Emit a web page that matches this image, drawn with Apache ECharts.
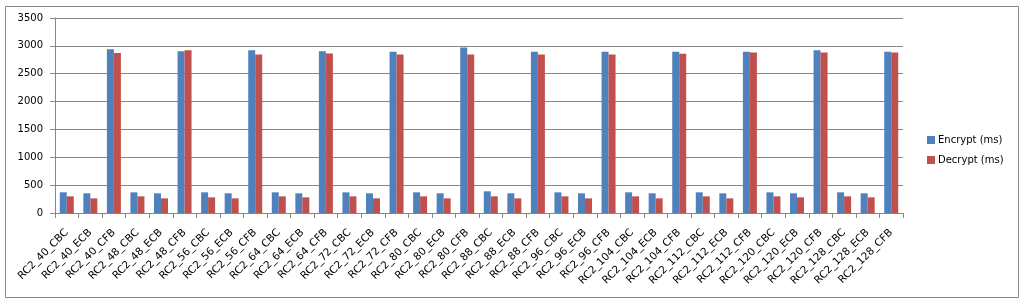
<!DOCTYPE html>
<html>
<head>
<meta charset="utf-8">
<script src="https://cdn.jsdelivr.net/npm/echarts@6/dist/echarts.min.js"></script>
<style>
html,body{margin:0;padding:0;background:#fff;}
#c{width:1023px;height:302px;}
</style>
</head>
<body>
<div id="c"></div>
<script>
const categories = [
  "RC2_40_CBC","RC2_40_ECB","RC2_40_CFB",
  "RC2_48_CBC","RC2_48_ECB","RC2_48_CFB",
  "RC2_56_CBC","RC2_56_ECB","RC2_56_CFB",
  "RC2_64_CBC","RC2_64_ECB","RC2_64_CFB",
  "RC2_72_CBC","RC2_72_ECB","RC2_72_CFB",
  "RC2_80_CBC","RC2_80_ECB","RC2_80_CFB",
  "RC2_88_CBC","RC2_88_ECB","RC2_88_CFB",
  "RC2_96_CBC","RC2_96_ECB","RC2_96_CFB",
  "RC2_104_CBC","RC2_104_ECB","RC2_104_CFB",
  "RC2_112_CBC","RC2_112_ECB","RC2_112_CFB",
  "RC2_120_CBC","RC2_120_ECB","RC2_120_CFB",
  "RC2_128_CBC","RC2_128_ECB","RC2_128_CFB"
];
const encrypt = [
  371,353,2937, 371,353,2901, 371,353,2919, 371,353,2901,
  371,353,2895, 371,353,2972, 389,353,2895, 371,353,2895,
  371,353,2895, 371,353,2895, 371,353,2919, 371,353,2895
];
const decrypt = [
  299,263,2871, 299,263,2919, 281,263,2847, 299,281,2865,
  299,263,2847, 299,263,2847, 299,263,2847, 299,263,2847,
  299,263,2859, 299,263,2883, 299,281,2883, 299,281,2883
];
const seriesNames = ["Encrypt (ms)", "Decrypt (ms)"];
const yMin = 0, yMax = 3500, yStep = 500;

const chart = echarts.init(document.getElementById('c'), null, {renderer:'canvas'});
const font = "DejaVu Sans";
const gridColor = "#868686";
chart.setOption({
  animation: false,
  backgroundColor: "#ffffff",
  textStyle: {fontFamily: font},
  graphic: [{
    type: 'rect', left: 3, top: 4, silent: true,
    shape: {x: 0, y: 0, width: 1013, height: 291},
    style: {fill: 'none', stroke: gridColor, lineWidth: 1}
  }],
  legend: {
    orient: 'vertical', left: 922, top: 130,
    itemWidth: 8, itemHeight: 8, itemGap: 10,
    icon: 'rect',
    textStyle: {fontFamily: font, fontSize: 10, color: '#000', padding: [0,0,0,-2]},
    data: seriesNames
  },
  grid: {left: 55, right: 120, top: 18, bottom: 89, containLabel: false},
  xAxis: {
    type: 'category', data: categories,
    axisLine: {lineStyle: {color: gridColor}},
    axisTick: {show: true, length: 5, lineStyle: {color: gridColor}},
    axisLabel: {interval: 0, rotate: 45, fontFamily: font, fontSize: 10.5, color: '#000', margin: 18}
  },
  yAxis: {
    type: 'value', min: yMin, max: yMax, interval: yStep,
    axisLine: {show: true, lineStyle: {color: gridColor}},
    axisTick: {show: true, length: 5, inside: false, lineStyle: {color: gridColor}},
    splitLine: {lineStyle: {color: gridColor}},
    axisLabel: {fontFamily: font, fontSize: 10, color: '#000', margin: 12, formatter: v => String(v)}
  },
  series: [
    {name: seriesNames[0], type: 'bar', data: encrypt, barWidth: 7, barGap: '0%', itemStyle: {color: '#4F81BD'}},
    {name: seriesNames[1], type: 'bar', data: decrypt, barWidth: 7, barGap: '0%', itemStyle: {color: '#C0504D'}}
  ]
});
</script>
</body>
</html>
